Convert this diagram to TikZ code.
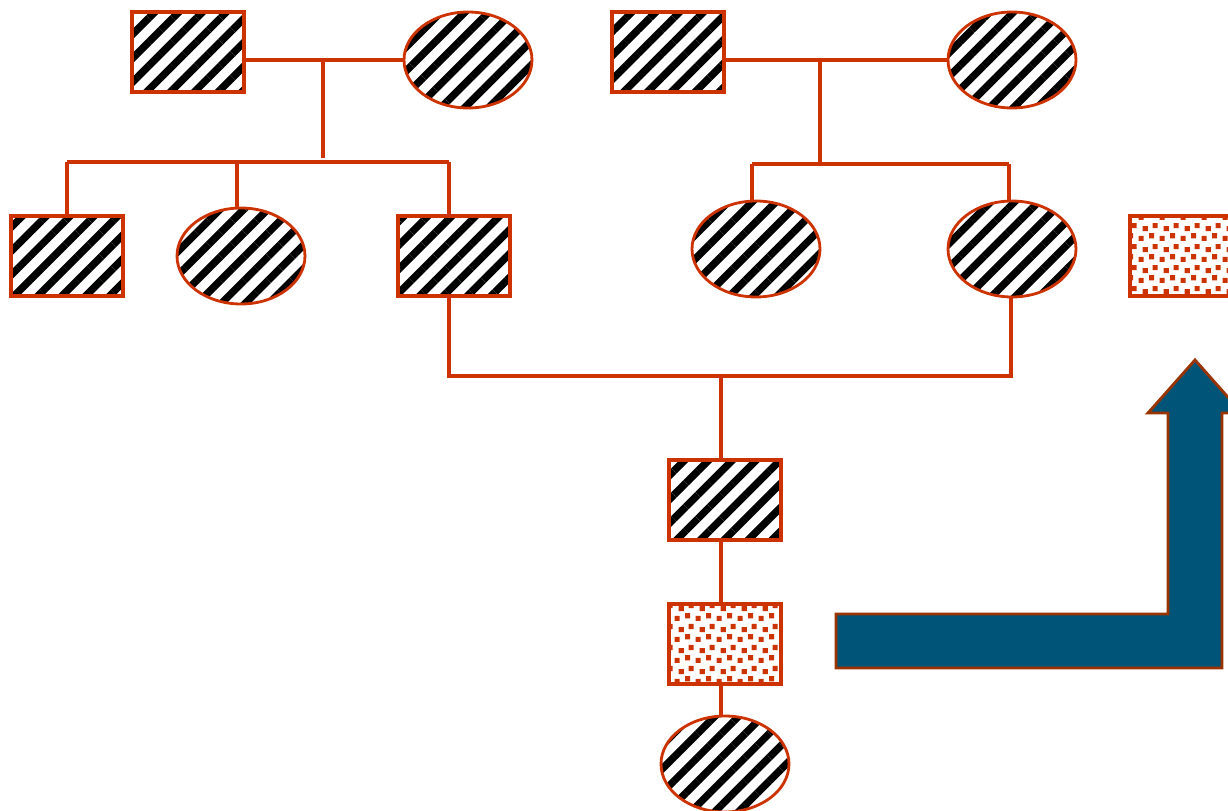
\documentclass[tikz,border=0pt]{standalone}
\usetikzlibrary{patterns.meta}
\usetikzlibrary{shapes.geometric}
\definecolor{kin}{RGB}{204,51,0}
\definecolor{arrowblue}{RGB}{0,84,120}
\definecolor{arrowrim}{RGB}{153,51,0}
\pgfdeclarepattern{
  name=specks,
  type=uncolored,
  bottom left={\pgfpoint{0pt}{0pt}},
  top right={\pgfpoint{12pt}{12pt}},
  tile size={\pgfpoint{12pt}{12pt}},
  code={
    \pgfpathrectangle{\pgfpoint{0.4pt}{0.6pt}}{\pgfpoint{3pt}{3pt}}
    \pgfpathrectangle{\pgfpoint{6.6pt}{2.2pt}}{\pgfpoint{3pt}{3pt}}
    \pgfpathrectangle{\pgfpoint{2.8pt}{6.4pt}}{\pgfpoint{3pt}{3pt}}
    \pgfpathrectangle{\pgfpoint{8.6pt}{8.2pt}}{\pgfpoint{3pt}{3pt}}
    \pgfusepath{fill}
  }
}
\tikzset{
  male/.style={draw=kin, line width=2pt, inner sep=0pt, outer sep=0pt,
    minimum width=2.24cm, minimum height=1.6cm,
    pattern={Lines[angle=45,distance=9.6pt,line width=4.2pt]}},
  female/.style={male, ellipse, line width=1.6pt,
    minimum width=2.56cm, minimum height=1.92cm},
  carrier/.style={draw=kin, line width=2pt, inner sep=0pt, outer sep=0pt,
    minimum width=2.24cm, minimum height=1.6cm,
    pattern=specks, pattern color=kin},
  kinline/.style={draw=kin, line width=2pt}
}
\begin{document}
\begin{tikzpicture}[x=0.02cm,y=-0.02cm]
	\useasboundingbox (0,0) rectangle (1228,811);
	% grandparents
	\node[male] (gf1) at (188,52) {};
	\node[female] (gm1) at (468,60) {};
	\node[male] (gf2) at (668,52) {};
	\node[female] (gm2) at (1012,60) {};
	% children
	\node[male] (ca1) at (67,256) {};
	\node[female] (ca2) at (241,256) {};
	\node[male] (ca3) at (454,256) {};
	\node[female] (cb1) at (756,249) {};
	\node[female] (cb2) at (1012,249) {};
	\node[carrier] (key) at (1186,256) {};
	% descendants
	\node[male] (d1) at (725,500) {};
	\node[carrier] (d2) at (725,644) {};
	\node[female] (d3) at (725,764) {};
	% junctions
	\coordinate (j1) at (323,60);
	\coordinate (sl1) at (67,162);
	\coordinate (sr1) at (449,162);
	\coordinate (j2) at (820,60);
	\coordinate (sl2) at (752,164);
	\coordinate (sr2) at (1009,164);
	\coordinate (ml) at (449,376);
	\coordinate (mr) at (1011,376);
	\coordinate (mj) at (721,376);
	% first family
	\draw[kinline] (gf1.east |- gm1) -- (gm1.west);
	\draw[kinline] (j1) -- (j1 |- 0,158);
	\draw[kinline] (sl1) -- (sr1);
	\draw[kinline] (sl1) -- (ca1.north);
	\draw[kinline] (237,162) -- (237,208);
	\draw[kinline] (sr1) -- (sr1 |- ca3.north);
	% second family
	\draw[kinline] (gf2.east |- gm2) -- (gm2.west);
	\draw[kinline] (j2) -- (j2 |- sl2);
	\draw[kinline] (sl2) -- (sr2);
	\draw[kinline] (sl2) -- (sl2 |- cb1.north);
	\draw[kinline] (sr2) -- (sr2 |- cb2.north);
	% marriage and line of descent
	\draw[kinline] (sr1 |- ca3.south) -- (ml) -- (mr) -- (mr |- cb2.south);
	\draw[kinline] (mj) -- (mj |- d1.north);
	\draw[kinline] (mj |- d1.south) -- (mj |- d2.north);
	\draw[kinline] (mj |- d2.south) -- (mj |- d3.north);
	% bent arrow
	\draw[arrowrim, line width=1.6pt, fill=arrowblue]
		(836,614) -- (1168,614) -- (1168,413) -- (1148,413) -- (1195,360)
		-- (1242,413) -- (1222,413) -- (1222,668) -- (836,668) -- cycle;
\end{tikzpicture}
\end{document}
